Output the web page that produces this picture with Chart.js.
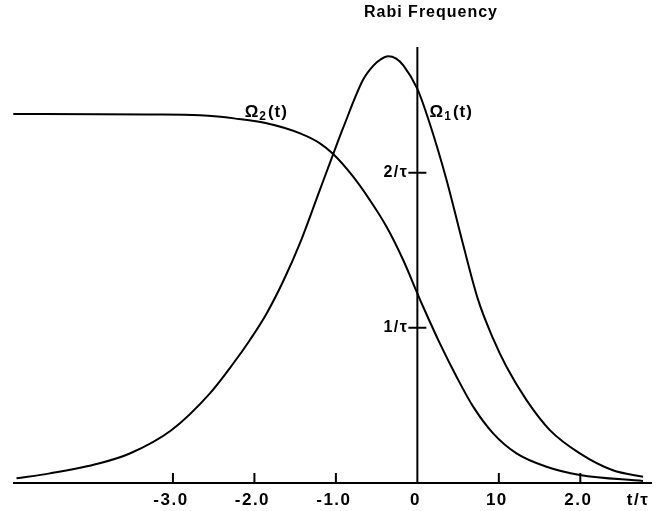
<!DOCTYPE html>
<html>
<head>
<meta charset="utf-8">
<script src="https://cdn.jsdelivr.net/npm/chart.js@4/dist/chart.umd.min.js"></script>
<style>
  html, body { margin: 0; padding: 0; background: #fff; }
  #wrap { width: 661px; height: 511px; }
</style>
</head>
<body>
<div id="wrap"><canvas id="rabi"></canvas></div>
<script>
// values (time in units of tau, frequency in units of 1/tau)
var t1 = [-4.92, -4.51, -3.90, -3.53, -3.02, -2.546, -2.26, -2.055, -1.85, -1.647, -1.442, -1.217, -1.033, -0.91, -0.665, -0.54, -0.45, -0.36, -0.26, -0.17, 0, 0.15, 0.36, 0.56, 0.746, 0.93, 1.094, 1.34, 1.626, 1.994, 2.40, 2.77];
var omega1 = [0.03, 0.062, 0.127, 0.19, 0.34, 0.578, 0.77, 0.922, 1.093, 1.30, 1.544, 1.86, 2.12, 2.29, 2.60, 2.69, 2.73, 2.75, 2.735, 2.69, 2.54, 2.32, 1.95, 1.54, 1.18, 0.93, 0.749, 0.534, 0.341, 0.191, 0.082, 0.04];

var t2 = [-4.96, -3.90, -3.30, -2.67, -2.45, -2.25, -1.85, -1.44, -1.196, -1.033, -0.788, -0.583, -0.378, -0.174, 0, 0.071, 0.276, 0.481, 0.685, 0.93, 1.217, 1.585, 1.994, 2.77];
var omega2 = [2.378, 2.377, 2.375, 2.37, 2.362, 2.35, 2.318, 2.253, 2.189, 2.12, 1.974, 1.823, 1.651, 1.437, 1.222, 1.136, 0.9, 0.685, 0.492, 0.32, 0.191, 0.105, 0.052, 0.013];

var xTicks = [-3, -2, -1, 0, 1, 2];
var xTickLabels = ['-3.0', '-2.0', '-1.0', '0', '10', '2.0'];
var yTicks = [1, 2];
var yTickLabels = ['1/\u03c4', '2/\u03c4'];

var FONT = '"Liberation Sans", Arial, sans-serif';

function pts(xs, ys) {
  return xs.map(function (x, i) { return { x: x, y: ys[i] }; });
}

function omegaLabel(ctx, sub, x, y) {
  ctx.textAlign = 'left';
  ctx.textBaseline = 'alphabetic';
  ctx.letterSpacing = '1px';
  ctx.font = 'bold 17px ' + FONT;
  ctx.fillText('\u03a9', x, y);
  var w = ctx.measureText('\u03a9').width;
  ctx.font = 'bold 12px ' + FONT;
  ctx.fillText(sub, x + w, y + 3);
  var w2 = ctx.measureText(sub).width;
  ctx.font = 'bold 17px ' + FONT;
  ctx.fillText('(t)', x + w + w2 + 1, y);
}

var axesPlugin = {
  id: 'axesPlugin',
  afterDraw: function (chart) {
    var ctx = chart.ctx, xs = chart.scales.x, ys = chart.scales.y, a = chart.chartArea;
    var x0 = xs.getPixelForValue(0), y0 = ys.getPixelForValue(0);
    ctx.save();
    ctx.strokeStyle = '#000';
    ctx.fillStyle = '#000';
    ctx.lineWidth = 2;
    ctx.beginPath();
    ctx.moveTo(a.left + 3, y0); ctx.lineTo(a.right, y0);
    ctx.moveTo(x0, a.top); ctx.lineTo(x0, y0);
    xTicks.forEach(function (v) {
      if (v === 0) return;
      var px = xs.getPixelForValue(v);
      ctx.moveTo(px, y0); ctx.lineTo(px, y0 - 10);
    });
    yTicks.forEach(function (v) {
      var py = ys.getPixelForValue(v);
      ctx.moveTo(x0 - 9, py); ctx.lineTo(x0 + 9, py);
    });
    ctx.stroke();

    ctx.font = 'bold 17px ' + FONT;
    ctx.letterSpacing = '1.5px';
    ctx.textBaseline = 'middle';
    ctx.textAlign = 'center';
    xTicks.forEach(function (v, i) {
      ctx.fillText(xTickLabels[i], xs.getPixelForValue(v) - 2, y0 + 17);
    });
    ctx.fillText('t/\u03c4', 638, y0 + 17);
    ctx.font = 'bold 16px ' + FONT;
    ctx.textAlign = 'right';
    yTicks.forEach(function (v, i) {
      ctx.fillText(yTickLabels[i], x0 - 9, ys.getPixelForValue(v));
    });

    ctx.font = 'bold 16px ' + FONT;
    ctx.letterSpacing = '1px';
    ctx.textAlign = 'center';
    ctx.fillText('Rabi Frequency', 431, 13);

    omegaLabel(ctx, '2', xs.getPixelForValue(-2.12), ys.getPixelForValue(2.36));
    omegaLabel(ctx, '1', xs.getPixelForValue(0.15), ys.getPixelForValue(2.36));
    ctx.restore();
  }
};

var common = {
  showLine: true,
  borderColor: '#000',
  borderWidth: 2,
  pointRadius: 0,
  cubicInterpolationMode: 'monotone',
  fill: false
};

new Chart(document.getElementById('rabi'), {
  type: 'scatter',
  data: {
    datasets: [
      Object.assign({ label: 'Omega1', data: pts(t1, omega1) }, common),
      Object.assign({ label: 'Omega2', data: pts(t2, omega2) }, common)
    ]
  },
  options: {
    responsive: true,
    maintainAspectRatio: false,
    animation: false,
    layout: { padding: { left: 10, right: 9, top: 47, bottom: 28 } },
    scales: {
      x: { type: 'linear', min: -5, max: 2.88, display: false },
      y: { min: 0, max: 2.81, display: false }
    },
    plugins: {
      legend: { display: false },
      tooltip: { enabled: false }
    }
  },
  plugins: [axesPlugin]
});
</script>
</body>
</html>
